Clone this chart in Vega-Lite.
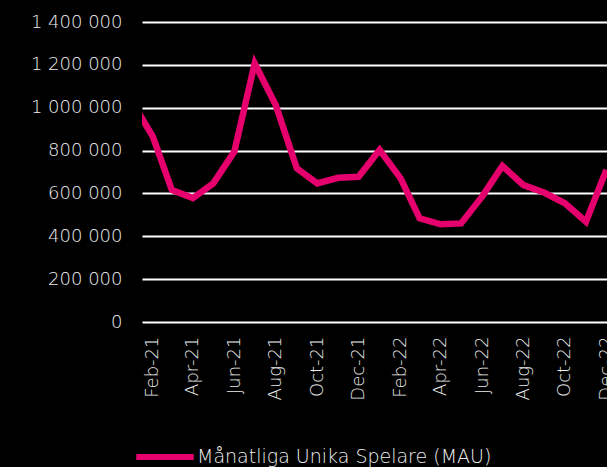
{
  "$schema": "https://vega.github.io/schema/vega-lite/v6.json",
  "width": 465,
  "height": 300,
  "autosize": {"type": "none"},
  "padding": {"left": 142, "top": 22, "right": 0, "bottom": 145},
  "background": "#000000",
  "config": {
    "view": {"stroke": null},
    "locale": {"number": {"decimal": ",", "thousands": " ", "grouping": [3], "currency": ["", " kr"]}},
    "font": "DejaVu Sans"
  },
  "data": {
    "values": [
      {"month": "2021-01-01", "serie": "Månatliga Unika Spelare (MAU)", "mau": 1030000},
      {"month": "2021-02-01", "serie": "Månatliga Unika Spelare (MAU)", "mau": 865000},
      {"month": "2021-03-01", "serie": "Månatliga Unika Spelare (MAU)", "mau": 616000},
      {"month": "2021-04-01", "serie": "Månatliga Unika Spelare (MAU)", "mau": 578000},
      {"month": "2021-05-01", "serie": "Månatliga Unika Spelare (MAU)", "mau": 647000},
      {"month": "2021-06-01", "serie": "Månatliga Unika Spelare (MAU)", "mau": 795000},
      {"month": "2021-07-01", "serie": "Månatliga Unika Spelare (MAU)", "mau": 1207000},
      {"month": "2021-08-01", "serie": "Månatliga Unika Spelare (MAU)", "mau": 1013000},
      {"month": "2021-09-01", "serie": "Månatliga Unika Spelare (MAU)", "mau": 717000},
      {"month": "2021-10-01", "serie": "Månatliga Unika Spelare (MAU)", "mau": 647000},
      {"month": "2021-11-01", "serie": "Månatliga Unika Spelare (MAU)", "mau": 673000},
      {"month": "2021-12-01", "serie": "Månatliga Unika Spelare (MAU)", "mau": 678000},
      {"month": "2022-01-01", "serie": "Månatliga Unika Spelare (MAU)", "mau": 803000},
      {"month": "2022-02-01", "serie": "Månatliga Unika Spelare (MAU)", "mau": 670000},
      {"month": "2022-03-01", "serie": "Månatliga Unika Spelare (MAU)", "mau": 484000},
      {"month": "2022-04-01", "serie": "Månatliga Unika Spelare (MAU)", "mau": 456000},
      {"month": "2022-05-01", "serie": "Månatliga Unika Spelare (MAU)", "mau": 460000},
      {"month": "2022-06-01", "serie": "Månatliga Unika Spelare (MAU)", "mau": 585000},
      {"month": "2022-07-01", "serie": "Månatliga Unika Spelare (MAU)", "mau": 728000},
      {"month": "2022-08-01", "serie": "Månatliga Unika Spelare (MAU)", "mau": 639000},
      {"month": "2022-09-01", "serie": "Månatliga Unika Spelare (MAU)", "mau": 603000},
      {"month": "2022-10-01", "serie": "Månatliga Unika Spelare (MAU)", "mau": 554000},
      {"month": "2022-11-01", "serie": "Månatliga Unika Spelare (MAU)", "mau": 468000},
      {"month": "2022-12-01", "serie": "Månatliga Unika Spelare (MAU)", "mau": 710000}
    ]
  },
  "mark": {"type": "line", "strokeWidth": 6.5, "clip": true, "strokeJoin": "miter", "strokeCap": "butt"},
  "encoding": {
    "x": {
      "field": "month",
      "type": "temporal",
      "scale": {
        "type": "utc",
        "domain": [
          {"year": 2021, "month": 1, "date": 16, "utc": true},
          {"year": 2022, "month": 12, "date": 2, "utc": true}
        ]
      },
      "axis": {
        "title": null,
        "format": "%b-%y",
        "values": [
          {"year": 2021, "month": 2, "date": 1, "utc": true},
          {"year": 2021, "month": 4, "date": 1, "utc": true},
          {"year": 2021, "month": 6, "date": 1, "utc": true},
          {"year": 2021, "month": 8, "date": 1, "utc": true},
          {"year": 2021, "month": 10, "date": 1, "utc": true},
          {"year": 2021, "month": 12, "date": 1, "utc": true},
          {"year": 2022, "month": 2, "date": 1, "utc": true},
          {"year": 2022, "month": 4, "date": 1, "utc": true},
          {"year": 2022, "month": 6, "date": 1, "utc": true},
          {"year": 2022, "month": 8, "date": 1, "utc": true},
          {"year": 2022, "month": 10, "date": 1, "utc": true},
          {"year": 2022, "month": 12, "date": 1, "utc": true}
        ],
        "labelAngle": -90,
        "labelAlign": "right",
        "labelBaseline": "middle",
        "labelPadding": 14,
        "labelFontSize": 18,
        "labelFontWeight": 300,
        "labelColor": "#eeeeee",
        "labelOverlap": false,
        "labelBound": false,
        "labelFlush": false,
        "ticks": false,
        "domain": false,
        "grid": false
      }
    },
    "y": {
      "field": "mau",
      "type": "quantitative",
      "scale": {"domain": [0, 1400000], "nice": false},
      "axis": {
        "title": null,
        "values": [0, 200000, 400000, 600000, 800000, 1000000, 1200000, 1400000],
        "format": ",d",
        "labelPadding": 20,
        "labelFontSize": 18,
        "labelFontWeight": 300,
        "labelColor": "#eeeeee",
        "ticks": false,
        "domain": false,
        "grid": true,
        "gridColor": "#ffffff",
        "gridWidth": 2,
        "gridOpacity": 1
      }
    },
    "color": {
      "field": "serie",
      "type": "nominal",
      "scale": {"range": ["#E6006E"]},
      "legend": {
        "title": null,
        "orient": "none",
        "legendX": -9,
        "legendY": 403,
        "symbolType": "stroke",
        "symbolSize": 3300,
        "symbolStrokeWidth": 6,
        "labelFontSize": 19,
        "labelFontWeight": 300,
        "labelColor": "#eeeeee",
        "labelOffset": 0,
        "labelLimit": 420
      }
    }
  }
}
